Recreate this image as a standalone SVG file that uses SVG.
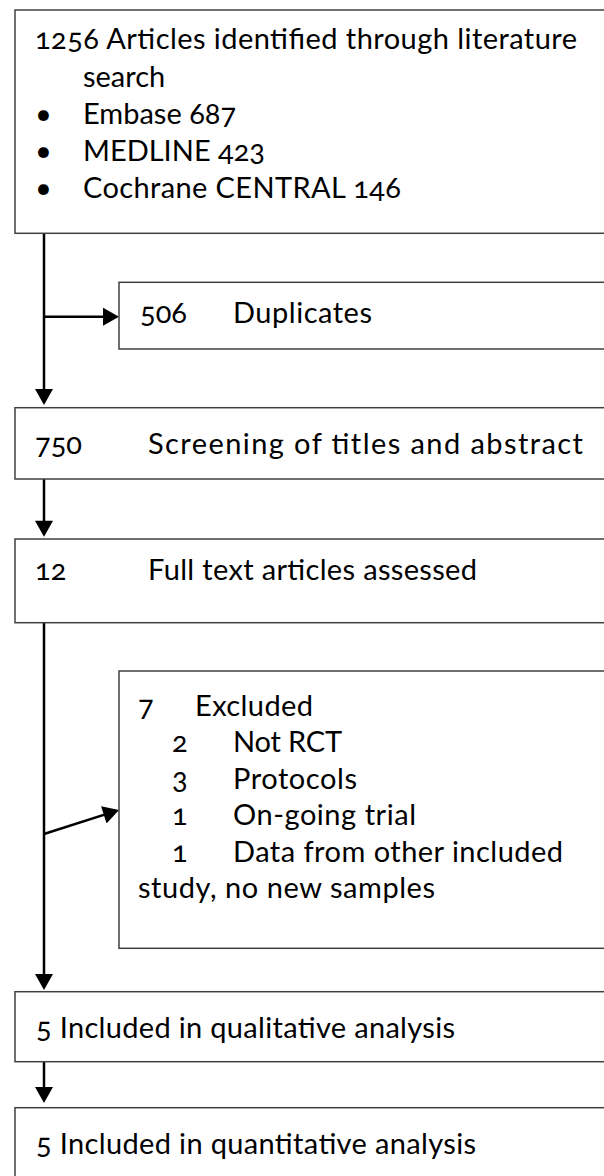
<svg xmlns="http://www.w3.org/2000/svg" width="604" height="1176" viewBox="0 0 604 1176">
<style>
.box{fill:#fff;stroke:#404040;stroke-width:1.5}
.t{font-family:Lato,"Open Sans","Liberation Sans",sans-serif;font-size:29px;fill:#000;font-variant-numeric:oldstyle-nums}
.c{stroke:#000;stroke-width:2.5;fill:none}
</style>
<defs>
<marker id="ah" markerUnits="userSpaceOnUse" markerWidth="17" markerHeight="18" viewBox="0 0 16 18" refX="13" refY="9" orient="auto">
<path d="M0,0 L16,9 L0,18 z" fill="#000"/>
</marker>
</defs>
<rect width="604" height="1176" fill="#fff"/>
<g id="connectors">
<line class="c" x1="44" y1="233" x2="44" y2="402" marker-end="url(#ah)"/>
<line class="c" x1="44" y1="316.7" x2="116" y2="316.7" marker-end="url(#ah)"/>
<line class="c" x1="44" y1="479" x2="44" y2="533.7" marker-end="url(#ah)"/>
<line class="c" x1="44" y1="623" x2="44" y2="987" marker-end="url(#ah)"/>
<line class="c" x1="44" y1="834" x2="116.2" y2="810.9" marker-end="url(#ah)"/>
<line class="c" x1="44" y1="1062" x2="44" y2="1100" marker-end="url(#ah)"/>
</g>
<g id="identified">
<rect class="box" x="15" y="10" width="620" height="223.3"/>
<text class="t" x="35" y="49" textLength="542">1256 Articles identified through literature</text>
<text class="t" x="83" y="87">search</text>
<text class="t" x="35" y="124">•</text>
<text class="t" x="83" y="124">Embase 687</text>
<text class="t" x="35" y="161">•</text>
<text class="t" x="83" y="161">MEDLINE 423</text>
<text class="t" x="35" y="198">•</text>
<text class="t" x="83" y="198" textLength="318">Cochrane CENTRAL 146</text>
</g>
<g id="duplicates">
<rect class="box" x="119" y="282.3" width="520" height="66.7"/>
<text class="t" x="140" y="323">506</text>
<text class="t" x="233" y="323" textLength="139">Duplicates</text>
</g>
<g id="screening">
<rect class="box" x="15" y="407.7" width="620" height="71.3"/>
<text class="t" x="35" y="454">750</text>
<text class="t" x="148" y="454" textLength="435">Screening of titles and abstract</text>
</g>
<g id="fulltext">
<rect class="box" x="15" y="539" width="620" height="83.7"/>
<text class="t" x="35" y="580">12</text>
<text class="t" x="148" y="580" textLength="329">Full text articles assessed</text>
</g>
<g id="excluded">
<rect class="box" x="119" y="671" width="520" height="277.3"/>
<text class="t" x="138" y="716">7</text>
<text class="t" x="195" y="716" textLength="118">Excluded</text>
<text class="t" x="172" y="752.4">2</text>
<text class="t" x="233" y="752.4" textLength="109">Not RCT</text>
<text class="t" x="172" y="788.8">3</text>
<text class="t" x="233" y="788.8" textLength="124">Protocols</text>
<text class="t" x="172" y="825.2">1</text>
<text class="t" x="233" y="825.2" textLength="183">On-going trial</text>
<text class="t" x="172" y="861.6">1</text>
<text class="t" x="233" y="861.6" textLength="330">Data from other included</text>
<text class="t" x="138" y="898" textLength="297">study, no new samples</text>
</g>
<g id="qualitative">
<rect class="box" x="15" y="991.7" width="620" height="70"/>
<text class="t" x="36" y="1037.7" textLength="419">5 Included in qualitative analysis</text>
</g>
<g id="quantitative">
<rect class="box" x="15" y="1107.7" width="620" height="90"/>
<text class="t" x="36" y="1154" textLength="440">5 Included in quantitative analysis</text>
</g>
</svg>
